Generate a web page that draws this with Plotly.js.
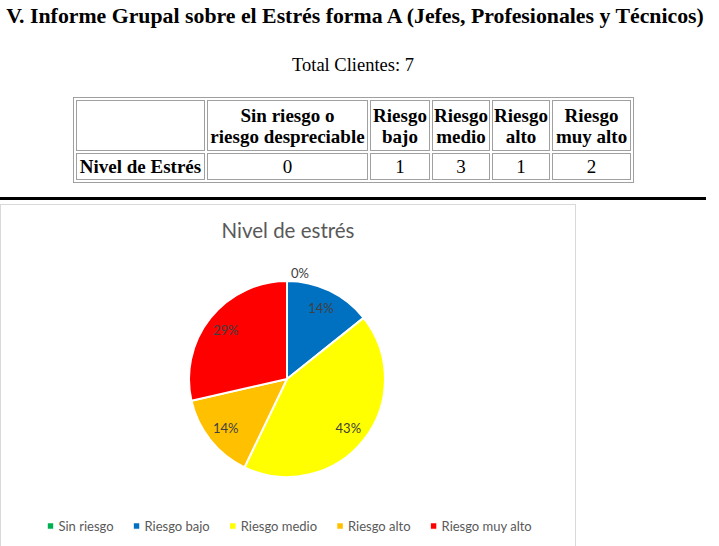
<!DOCTYPE html>
<html>
<head>
<meta charset="utf-8">
<script src="https://cdn.plot.ly/plotly-3.0.1.min.js"></script>
<style>
  html, body { margin:0; padding:0; background:#fff; width:719px; height:546px; overflow:hidden; }
  #title { position:absolute; left:0; top:4px; width:710px; text-align:center; font-family:"Liberation Serif","Times New Roman",serif; font-weight:bold; font-size:21.8px; color:#000; white-space:nowrap; }
  #total { position:absolute; left:0; top:55px; width:706px; text-align:center; font-family:"Liberation Serif","Times New Roman",serif; font-size:18.5px; color:#000; }
  #tbl { position:absolute; left:73px; top:97px; border-collapse:separate; border-spacing:2px; border:1px solid #a0a0a0; font-family:"Liberation Serif","Times New Roman",serif; font-size:19px; }
  #tbl td, #tbl th { border:1px solid #a0a0a0; padding:1px; text-align:center; line-height:21px; }
  #tbl th { font-weight:bold; height:47px; }
  #tbl td { height:23px; }
  #tbl .rh { font-weight:bold; }
  #rule { position:absolute; left:0; top:197px; width:706px; height:3px; background:#000; }
  #box { position:absolute; left:0; top:204px; width:574px; height:360px; border:1px solid #d9d9d9; }
  #chart { position:absolute; left:1px; top:205px; width:574px; height:345px; }
  .legendpie { transform: translate(32px, 0px) scale(0.55); }
</style>
</head>
<body>
<div id="title"></div>
<div id="total"></div>
<table id="tbl"></table>
<div id="rule"></div>
<div id="box"></div>
<div id="chart"></div>
<script>
// ---- data ----
const pageTitle = "V. Informe Grupal sobre el Estrés forma A (Jefes, Profesionales y Técnicos)";
const totalLabel = "Total Clientes: 7";
const rowLabel = "Nivel de Estrés";
const tableHeaders = ["Sin riesgo o<br>riesgo despreciable", "Riesgo<br>bajo", "Riesgo<br>medio", "Riesgo<br>alto", "Riesgo<br>muy alto"];
const legendLabels = ["Sin riesgo", "Riesgo bajo", "Riesgo medio", "Riesgo alto", "Riesgo muy alto"];
const counts = [0, 1, 3, 1, 2];
const sliceColors = ["#00B050", "#0070C0", "#FFFF00", "#FFC000", "#FF0000"];
const chartTitle = "Nivel de estrés";

// ---- header & table ----
document.getElementById("title").textContent = pageTitle;
document.getElementById("total").textContent = totalLabel;
const colW = [125, 157, 56, 54, 54, 75];
let html = "<tr><th style='width:" + colW[0] + "px'></th>";
tableHeaders.forEach((h, i) => { html += "<th style='width:" + colW[i+1] + "px'>" + h + "</th>"; });
html += "</tr><tr><td class='rh'>" + rowLabel + "</td>";
counts.forEach(c => { html += "<td>" + c + "</td>"; });
html += "</tr>";
document.getElementById("tbl").innerHTML = html;

// ---- pie ----
const W = 574, H = 345;
const cx = 286, cy = 174, r = 98;
const dom = { x: [(cx - r) / W, (cx + r) / W], y: [(H - cy - r) / H, (H - cy + r) / H] };
const lblFont = { family: "Lato, 'Open Sans', sans-serif", size: 13, color: "#404040" };
const slices = {
  type: "pie",
  labels: legendLabels,
  values: counts,
  sort: false,
  direction: "clockwise",
  rotation: 0,
  marker: { colors: sliceColors, line: { color: "#ffffff", width: 2 } },
  textinfo: "none",
  hoverinfo: "label+value+percent",
  automargin: false,
  domain: dom
};
const labelsRing = {
  type: "pie",
  labels: legendLabels,
  values: counts,
  sort: false,
  direction: "clockwise",
  rotation: 0,
  hole: 0.6,
  showlegend: false,
  marker: { colors: sliceColors.map(() => "rgba(0,0,0,0)"), line: { width: 0 } },
  texttemplate: "%{percent:.0%}",
  textposition: ["outside", "inside", "inside", "inside", "inside"],
  insidetextorientation: "horizontal",
  textfont: lblFont,
  insidetextfont: lblFont,
  outsidetextfont: lblFont,
  hoverinfo: "skip",
  automargin: false,
  domain: dom
};
const layout = {
  width: W, height: H,
  margin: { l: 0, r: 0, t: 0, b: 0 },
  paper_bgcolor: "#ffffff",
  font: { family: "Lato, 'Open Sans', sans-serif", color: "#595959" },
  title: { text: chartTitle, font: { family: "Lato, 'Open Sans', sans-serif", size: 20.5, color: "#595959" }, x: 0.5, xanchor: "center", y: 1 - 26 / H, yanchor: "middle" },
  showlegend: true,
  legend: { orientation: "h", x: 0.5, xanchor: "center", y: (H - 321) / H, yanchor: "middle", font: { size: 13, color: "#595959" }, traceorder: "normal", itemclick: false }
};
Plotly.newPlot("chart", [slices, labelsRing], layout, { displayModeBar: false, staticPlot: true }).then(gd => {
  // tighten the horizontal legend spacing (Excel-style compact entries)
  const items = gd.querySelectorAll(".legend .traces");
  items.forEach((el, i) => {
    const t = el.getAttribute("transform") || "";
    const m = t.match(/translate\(\s*([-\d.]+)[ ,]+([-\d.]+)\s*\)/);
    if (m) el.setAttribute("transform", "translate(" + (parseFloat(m[1]) - 14 * i + 18) + "," + m[2] + ")");
  });
});
</script>
</body>
</html>
